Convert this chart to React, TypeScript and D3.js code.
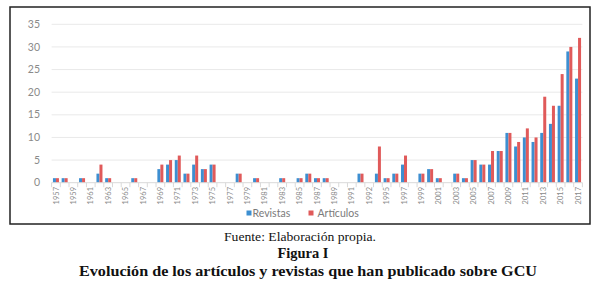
import React from "react";
import * as d3 from "d3";

const years: number[] = d3.range(1957, 2018);
const tickLabels: string[] = [
  "1957","1959","1961","1963","1965","1967","1969","1971","1973","1975",
  "1977","1979","1981","1983","1985","1987","1989","1991","1992","1995",
  "1997","1999","2001","2003","2005","2007","2009","2011","2013","2015","2017",
];
const revistas: number[] = [
  1,1,0,1,0,2,1,0,0,1, 0,0,3,4,5,2,4,3,4,0,
  0,2,0,1,0,0,1,0,1,2, 1,1,0,0,0,2,0,2,1,2,
  4,0,2,3,1,0,2,1,5,4, 4,7,11,8,10,9,11,13,17,29,
  23,
];
const articulos: number[] = [
  1,1,0,1,0,4,1,0,0,1, 0,0,4,5,6,2,6,3,4,0,
  0,2,0,1,0,0,1,0,1,2, 1,1,0,0,0,2,0,8,1,2,
  6,0,2,3,1,0,2,1,5,4, 7,7,11,9,12,10,19,17,24,30,
  32,
];
const seriesNames: string[] = ["Revistas", "Artículos"];
const seriesColors: string[] = ["#3d8fd1", "#e05a5a"];
const yTicks: number[] = [0, 5, 10, 15, 20, 25, 30, 35];

export default function App() {
  const W = 600, H = 289;
  const x = d3.scaleBand<number>().domain(years).range([51.6, 582.4]).paddingInner(0).paddingOuter(0);
  const bw = x.bandwidth();
  const groupW = 6;
  const x1 = d3.scaleBand<string>().domain(seriesNames).range([(bw - groupW) / 2, (bw + groupW) / 2]);
  const y = d3.scaleLinear().domain([0, 35]).range([182.7, 24.3]);
  const data = [revistas, articulos];
  const font = "Lato, 'Open Sans', sans-serif";
  const serif = "'Liberation Serif', 'Times New Roman', serif";

  return (
    <div style={{ position: "absolute", left: 0, top: 0 }}>
      <svg width={W} height={H} style={{ display: "block", background: "#fff" }}>
        <rect x={10} y={7} width={580} height={217} fill="#fff" stroke="#222" strokeWidth={1.5} />
        {yTicks.map((t) => (
          <g key={t}>
            {t > 0 && (
              <line x1={51.6} x2={582.4} y1={y(t)} y2={y(t)} stroke="#e9e9e9" strokeWidth={1} />
            )}
            <text x={40} y={y(t)} dy="0.35em" textAnchor="end" fontSize={10.5} fill="#8a8a8a" fontFamily={font}>
              {t}
            </text>
          </g>
        ))}
        {/* bars */}
        {data.map((vals, si) =>
          vals.map((v, i) =>
            v > 0 ? (
              <rect
                key={si + "-" + i}
                x={(x(years[i]) as number) + (x1(seriesNames[si]) as number)}
                y={y(v)}
                width={x1.bandwidth()}
                height={y(0) - y(v)}
                fill={seriesColors[si]}
              />
            ) : null
          )
        )}
        {/* axis line and ticks */}
        <line x1={51.6} x2={582.4} y1={y(0)} y2={y(0)} stroke="#d9d9d9" strokeWidth={1} />
        {years.concat([2018]).map((yr, i) => {
          const xx = 51.6 + i * bw;
          return <line key={"t" + yr} x1={xx} x2={xx} y1={y(0)} y2={y(0) + 4.5} stroke="#d9d9d9" strokeWidth={1} />;
        })}
        {tickLabels.map((lab, k) => {
          const cx = (x(years[k * 2]) as number) + bw / 2;
          return (
            <text
              key={"l" + k}
              transform={`translate(${cx},${187}) rotate(-90)`}
              dy="0.35em"
              textAnchor="end"
              fontSize={7.5}
              fill="#8a8a8a"
              fontFamily={font}
            >
              {lab}
            </text>
          );
        })}
        {/* legend */}
        <rect x={246.5} y={210.5} width={5} height={5} fill={seriesColors[0]} />
        <text x={252.5} y={213.3} dy="0.35em" fontSize={10.5} fill="#7a7a7a" fontFamily={font}>
          {seriesNames[0]}
        </text>
        <rect x={308.5} y={210.5} width={5} height={5} fill={seriesColors[1]} />
        <text x={317.5} y={213.3} dy="0.35em" fontSize={10.5} fill="#7a7a7a" fontFamily={font}>
          {seriesNames[1]}
        </text>
        {/* captions */}
        <text x={300} y={240.5} textAnchor="middle" fontSize={13} fill="#111" fontFamily={serif}
          textLength={152} lengthAdjust="spacingAndGlyphs">
          Fuente: Elaboración propia.
        </text>
        <text x={303} y={258} textAnchor="middle" fontSize={15} fontWeight="bold" fill="#111" fontFamily={serif}
          textLength={51} lengthAdjust="spacingAndGlyphs">
          Figura I
        </text>
        <text x={308} y={275.7} textAnchor="middle" fontSize={15} fontWeight="bold" fill="#111" fontFamily={serif}
          textLength={458} lengthAdjust="spacingAndGlyphs">
          Evolución de los artículos y revistas que han publicado sobre GCU
        </text>
      </svg>
    </div>
  );
}
